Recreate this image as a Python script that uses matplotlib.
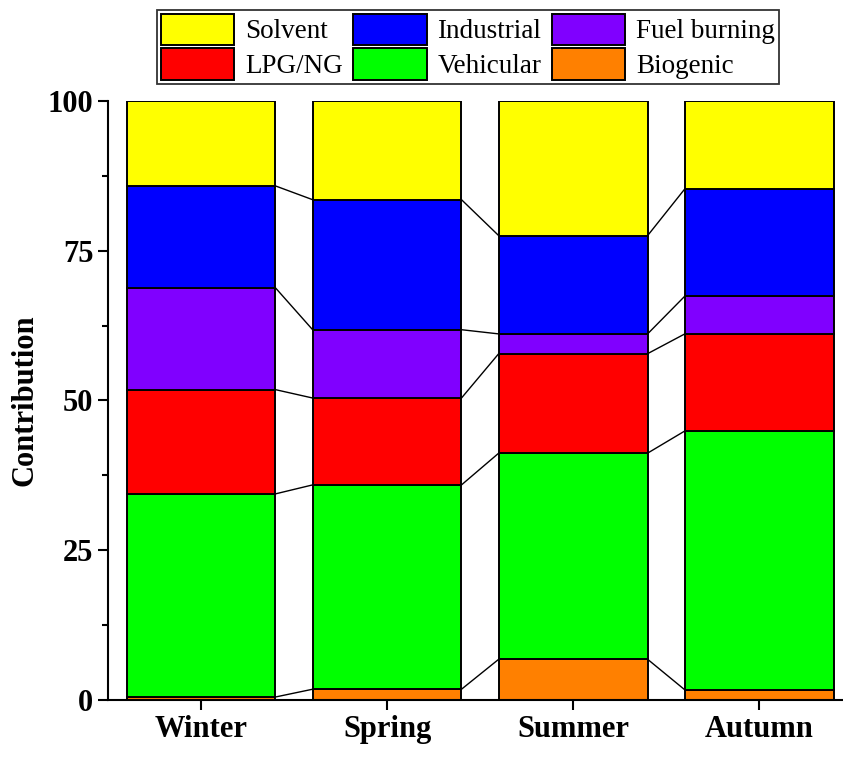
import matplotlib.pyplot as plt
import matplotlib
import numpy as np

matplotlib.rcParams.update({
    "font.family": "Liberation Serif", "font.size": 22, "font.weight": "bold",
    "axes.linewidth": 1.5, "xtick.direction": "out", "ytick.direction": "out",
})

seasons = ["Winter", "Spring", "Summer", "Autumn"]
sources = ["Biogenic", "Vehicular", "LPG/NG", "Fuel burning", "Industrial", "Solvent"]
colors = ["#FF8000", "#00FF00", "#FF0000", "#8000FF", "#0000FF", "#FFFF00"]
# cumulative tops
tops = {
    "Biogenic":     [0.5, 1.8, 6.8, 1.7],
    "Vehicular":    [34.4, 35.9, 41.2, 44.9],
    "LPG/NG":       [51.8, 50.4, 57.8, 61.1],
    "Fuel burning": [68.8, 61.8, 61.1, 67.4],
    "Industrial":   [85.8, 83.5, 77.5, 85.3],
    "Solvent":      [100, 100, 100, 100],
}

fig = plt.figure(figsize=(8.43, 7.58), dpi=100)
ax = fig.add_axes([0.128, 0.0765, 0.872, 0.7905])
x = np.arange(len(seasons))
w = 0.8
bottom = np.zeros(4)
handles = {}
for src, c in zip(sources, colors):
    top = np.array(tops[src])
    h = ax.bar(x, top - bottom, w, bottom=bottom, color=c, edgecolor="black", linewidth=1.4)
    handles[src] = h
    if src != "Solvent":
        for i in range(3):
            ax.plot([x[i] + w / 2, x[i + 1] - w / 2], [top[i], top[i + 1]], color="black", lw=1)
    bottom = top

ax.set_xlim(-0.5, 3.45)
ax.set_ylim(0, 100)
ax.set_yticks([0, 25, 50, 75, 100])
ax.set_yticks([12.5, 37.5, 62.5, 87.5], minor=True)
ax.set_xticks(x, seasons)
ax.tick_params(axis="both", labelsize=22, length=7, width=1.5)
ax.tick_params(axis="y", which="minor", length=4, width=1.5)
ax.set_ylabel("Contribution", fontsize=22, fontweight="bold", labelpad=6)
ax.spines["top"].set_visible(False)
ax.spines["right"].set_visible(False)

order = ["Solvent", "LPG/NG", "Industrial", "Vehicular", "Fuel burning", "Biogenic"]
leg = fig.legend([handles[o] for o in order], order, ncol=3, loc="upper center",
                 bbox_to_anchor=(0.555, 0.998), fancybox=False, edgecolor="black",
                 prop={"family": "Liberation Serif", "size": 19.5, "weight": "normal"},
                 handlelength=2.7, handleheight=1.4, columnspacing=0.4,
                 handletextpad=0.4, labelspacing=0.12, borderpad=0.15, borderaxespad=0.3)
leg.get_frame().set_linewidth(1.3)
fig.savefig("out.png", dpi=100)
